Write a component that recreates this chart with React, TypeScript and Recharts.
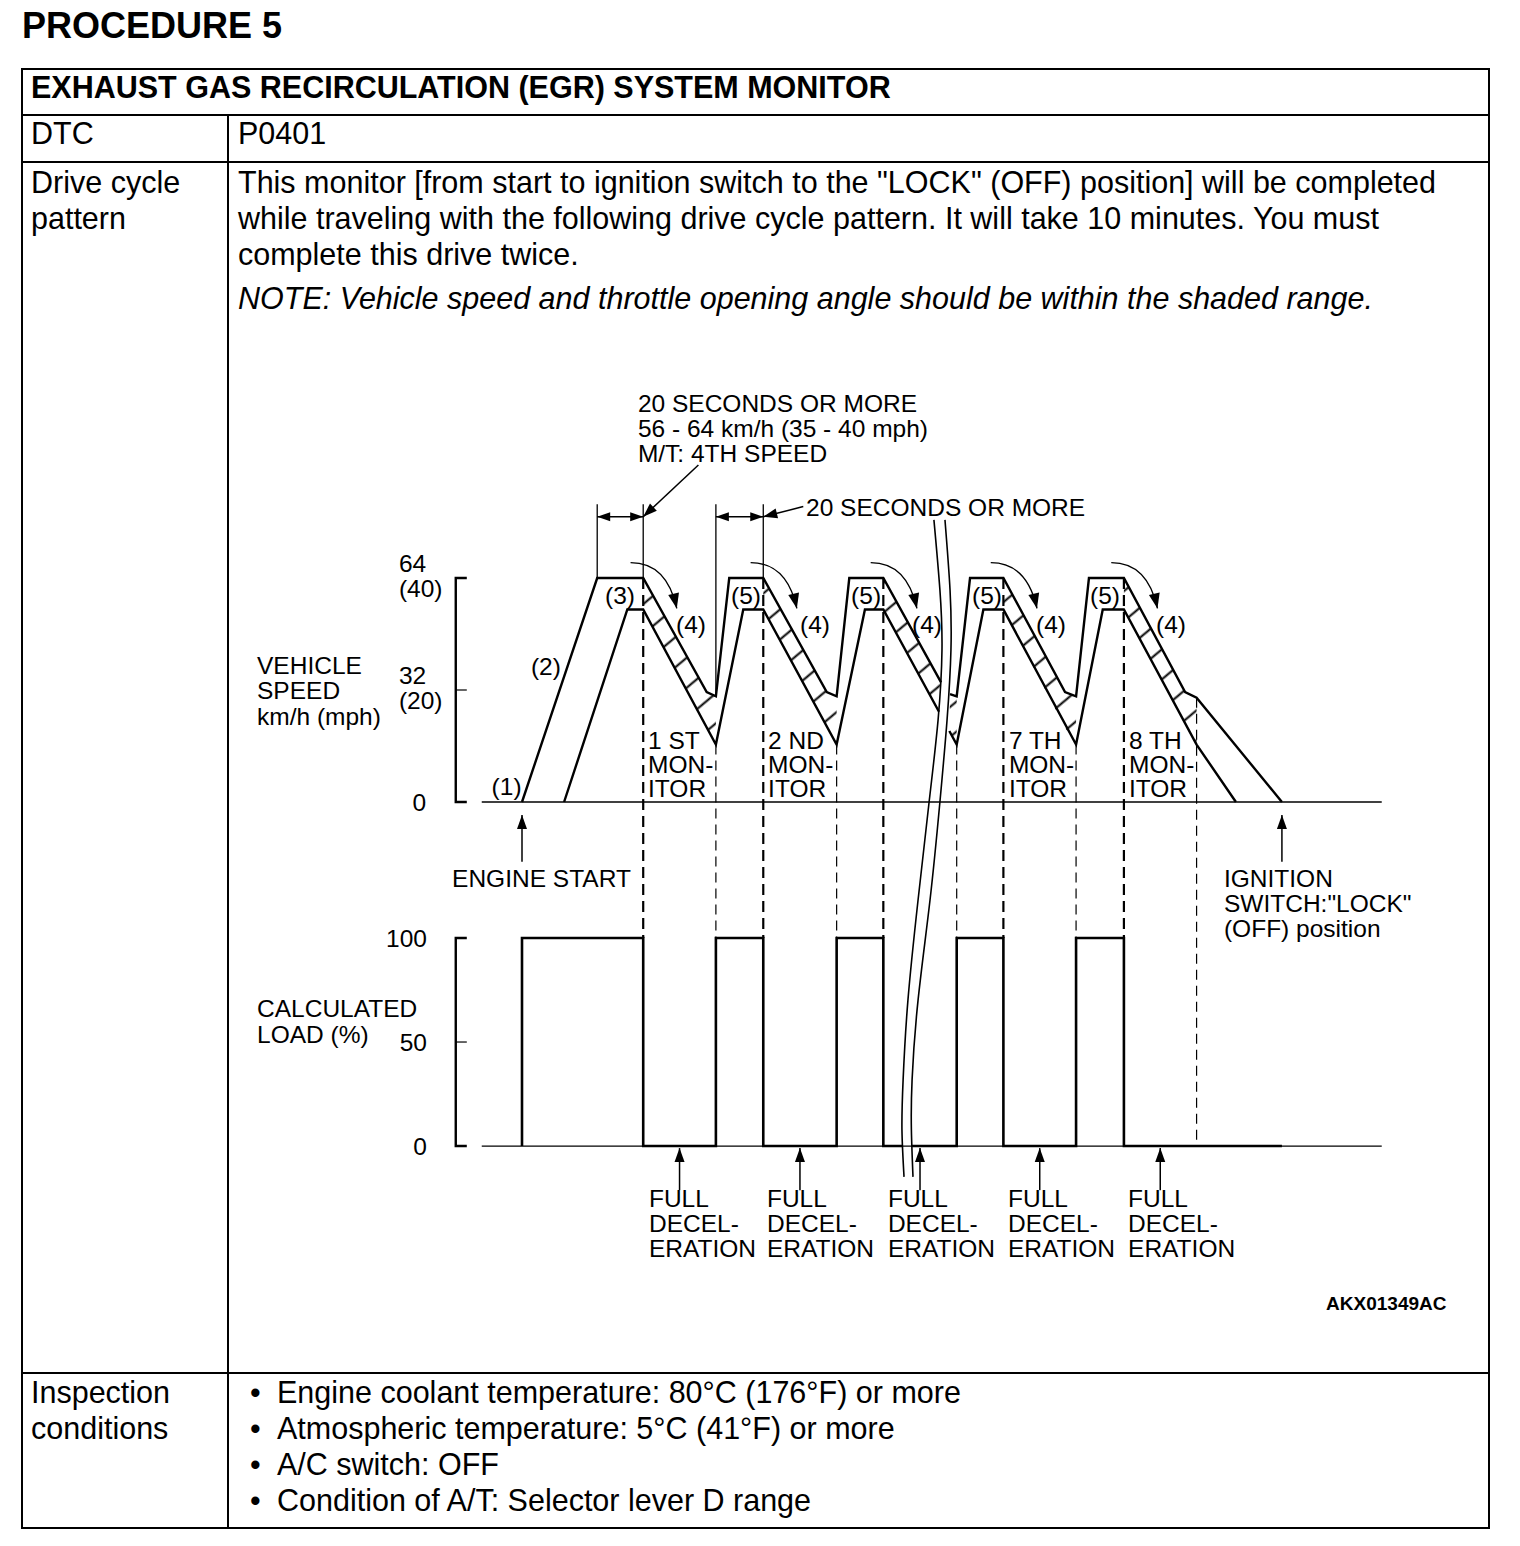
import React from 'react';
import { ComposedChart, Line, Area, XAxis, YAxis, ReferenceLine, ReferenceDot } from 'recharts';

// t = seconds after engine start, v = vehicle speed km/h, load = calculated load %
const upperLimitA = [[0, 0], [32.7, 64], [52.7, 64], [80.3, 31.4], [84.3, 30.2], [90.1, 64], [104.9, 64], [132.5, 31.4], [136.8, 30.2], [142.3, 64], [157.1, 64], [182.2, 34.2]];
const lowerLimitA = [[18.3, 0], [45.8, 55], [52.7, 55], [84.3, 16.4], [96.2, 55], [104.9, 55], [136.8, 16.4], [149.1, 55], [157.1, 55], [181.3, 25.8]];
const upperLimitB = [[186.1, 30.8], [189, 30.2], [194.8, 64], [209.3, 64], [236.1, 31.4], [240.9, 30.2], [246.5, 64], [261.7, 64], [288.3, 31.4], [293.3, 29.8], [330.4, 0]];
const lowerLimitB = [[185.8, 20.3], [189, 16.4], [200.6, 55], [209.3, 55], [240.9, 16.4], [252.5, 55], [261.7, 55], [293.3, 16.4], [310.4, 0]];

// shaded decel ranges: [t, low, high]
const shadedRanges = [
  [[52.7, 55, 64], [80.3, 21.3, 31.4], [84.3, 16.4, 30.2]],
  [[104.9, 55, 64], [132.5, 21.3, 31.4], [136.8, 16.4, 30.2]],
  [[157.1, 55, 64], [181.7, 25.4, 34.3]],
  [[186, 20.3, 30.8], [189, 16.4, 30.2]],
  [[209.3, 55, 64], [236.1, 21.3, 31.4], [240.9, 16.4, 30.2]],
  [[261.7, 55, 64], [288.3, 22.1, 31.4], [293.3, 16.4, 29.8]],
];

const loadA = [[0, 0], [0, 100], [52.7, 100], [52.7, 0], [84.3, 0], [84.3, 100], [104.9, 100], [104.9, 0], [136.8, 0], [136.8, 100], [157.1, 100], [157.1, 0], [165.3, 0]];
const loadB = [[169.5, 0], [189, 0], [189, 100], [209.3, 100], [209.3, 0], [240.9, 0], [240.9, 100], [261.7, 100], [261.7, 0], [330.4, 0]];

const decelStarts = [52.7, 104.9, 157.1, 209.3, 261.7];
const valleys = [84.3, 136.8, 189, 240.9, 293.3];
const valleyTop = [16.4, 16.4, 16.4, 16.4, 29.8];
const valleyBottomLoad = [100, 100, 100, 100, 0];

// break marks (t, speed units)
const breakLeft = [[179.1, 80.6], [181.7, 60.6], [182.6, 43.4], [180.9, 23.4], [177, 0], [172.2, -28], [167.8, -56.6], [165.7, -79.4], [165.2, -93.7], [166.1, -107.1]];
const breakRight = [[183.9, 80.6], [186.1, 60.6], [186.5, 43.4], [184.8, 23.4], [181.7, 0], [177.4, -28], [172.2, -56.6], [169.6, -79.4], [169.3, -93.7], [170, -107.1]];

const speedBracket = [[-24, 64], [-28.8, 64], [-28.8, 0], [-24, 0]];
const loadBracket = [[-24, 100], [-28.8, 100], [-28.8, 0], [-24, 0]];

const speedTickLabels = [{ v: 64, text: ['64', '(40)'] }, { v: 32, text: ['32', '(20)'] }];
const loadTickLabels = [100, 50, 0];

const T_DOMAIN = [-120, 420];
const SPD_DOMAIN = [-150, 120];
const LOAD_DOMAIN = [-87, 367.3];
const loadToSpd = (l: number) =>
  SPD_DOMAIN[0] + ((l - LOAD_DOMAIN[0]) / (LOAD_DOMAIN[1] - LOAD_DOMAIN[0])) * (SPD_DOMAIN[1] - SPD_DOMAIN[0]);

const pts = (a: number[][]) => a.map(([t, v]) => ({ t, v }));
const band = (a: number[][]) => a.map(([t, lo, hi]) => ({ t, band: [lo, hi] }));

const FONT = "'Liberation Sans', Arial, Helvetica, sans-serif";
const CHART_FS = 24.5;

// labels placed in chart units
const speedNotes = [
  { t: 50.4, v: 114, lines: ['20 SECONDS OR MORE', '56 - 64 km/h (35 - 40 mph)', 'M/T: 4TH SPEED'], gap: 25 },
  { t: 123.5, v: 84.3, lines: ['20 SECONDS OR MORE'] },
  { t: -115.2, v: 39.1, lines: ['VEHICLE', 'SPEED', 'km/h (mph)'], gap: 25.5 },
  { t: -6.7, v: 4.6, lines: ['(1)'], anchor: 'middle' },
  { t: 10.4, v: 38.9, lines: ['(2)'], anchor: 'middle' },
  { t: 42.6, v: 59.1, lines: ['(3)'], anchor: 'middle' },
  ...[73.5, 127.4, 176.1, 230, 282.2].map((t) => ({ t, v: 50.9, lines: ['(4)'], anchor: 'middle' })),
  ...[97.4, 149.6, 202.2, 253.5].map((t) => ({ t, v: 59.1, lines: ['(5)'], anchor: 'middle' })),
  { t: 54.8, v: 17.7, lines: ['1 ST', 'MON-', 'ITOR'], gap: 24 },
  { t: 107, v: 17.7, lines: ['2 ND', 'MON-', 'ITOR'], gap: 24 },
  { t: 211.7, v: 17.7, lines: ['7 TH', 'MON-', 'ITOR'], gap: 24 },
  { t: 263.9, v: 17.7, lines: ['8 TH', 'MON-', 'ITOR'], gap: 24 },
  { t: -30.4, v: -21.7, lines: ['ENGINE START'] },
  { t: 305.2, v: -21.7, lines: ['IGNITION', 'SWITCH:"LOCK"', '(OFF) position'], gap: 25 },
];
const loadNotes = [
  { t: -115.2, l: 66.3, lines: ['CALCULATED', 'LOAD (%)'], gap: 26 },
  ...[55.2, 106.5, 159.1, 211.3, 263.5].map((t) => ({ t, l: -25, lines: ['FULL', 'DECEL-', 'ERATION'], gap: 25 })),
];

const head = (x1: number, y1: number, x2: number, y2: number, len = 13, half = 4.5) => {
  const d = Math.hypot(x2 - x1, y2 - y1) || 1;
  const ux = (x2 - x1) / d;
  const uy = (y2 - y1) / d;
  const bx = x2 - ux * len;
  const by = y2 - uy * len;
  return `${x2},${y2} ${bx - uy * half},${by + ux * half} ${bx + uy * half},${by - ux * half}`;
};

const arrow = (p: any) => (
  <g>
    <line x1={p.x1} y1={p.y1} x2={p.x2} y2={p.y2} stroke="#000" strokeWidth={1.5} />
    <polygon points={head(p.x1, p.y1, p.x2, p.y2, 14, 5)} fill="#000" />
  </g>
);
const dimArrow = (p: any) => (
  <g>
    <line x1={p.x1} y1={p.y1} x2={p.x2} y2={p.y2} stroke="#000" strokeWidth={1.3} />
    <polygon points={head(p.x1, p.y1, p.x2, p.y2, 13, 4.5)} fill="#000" />
    <polygon points={head(p.x2, p.y2, p.x1, p.y1, 13, 4.5)} fill="#000" />
  </g>
);
const bendArrow = (p: any) => {
  const cx = p.x2 - 10;
  const cy = p.y1;
  return (
    <g>
      <path d={`M${p.x1},${p.y1} Q${cx},${cy} ${p.x2},${p.y2}`} fill="none" stroke="#000" strokeWidth={1.4} />
      <polygon points={head(cx, cy, p.x2, p.y2, 15, 5.5)} fill="#000" />
    </g>
  );
};

const textShape = (lines: string[], anchor = 'start', gap = 24.5, size = CHART_FS, weight: any = 'normal') => (p: any) => (
  <text textAnchor={anchor as any} fontFamily={FONT} fontSize={size} fontWeight={weight} fill="#000">
    {lines.map((s, i) => (
      <tspan key={i} x={p.cx} y={p.cy + i * gap + size * 0.358}>
        {s}
      </tspan>
    ))}
  </text>
);

function DriveCycleChart() {
  const line = { stroke: '#000', dot: false, activeDot: false, isAnimationActive: false, type: 'linear' as const };
  return (
    <ComposedChart width={1242} height={945} margin={{ top: 0, right: 0, bottom: 0, left: 0 }}>
      <defs>
        <pattern id="hatch" patternUnits="userSpaceOnUse" width="23" height="23" patternTransform="rotate(50)">
          <line x1="11.5" y1="0" x2="11.5" y2="23" stroke="#000" strokeWidth="2" />
        </pattern>
      </defs>
      <XAxis dataKey="t" type="number" domain={T_DOMAIN} allowDataOverflow hide />
      <YAxis yAxisId="spd" type="number" domain={SPD_DOMAIN} allowDataOverflow hide />
      <YAxis yAxisId="load" type="number" domain={LOAD_DOMAIN} allowDataOverflow hide />

      {shadedRanges.map((r, i) => (
        <Area key={`sh${i}`} yAxisId="spd" data={band(r)} dataKey="band" type="linear" stroke="none" fill="url(#hatch)" fillOpacity={1} isAnimationActive={false} activeDot={false} />
      ))}

      {/* baselines */}
      <ReferenceLine yAxisId="spd" segment={[{ x: -17.5, y: 0 }, { x: 373.8, y: 0 }]} stroke="#000" strokeWidth={1.3} />
      <ReferenceLine yAxisId="load" segment={[{ x: -17.5, y: 0 }, { x: 373.8, y: 0 }]} stroke="#000" strokeWidth={1.3} />

      {/* dashed guides */}
      {decelStarts.map((t, i) => (
        <ReferenceLine key={`ds${i}`} yAxisId="spd" segment={[{ x: t, y: 64 }, { x: t, y: loadToSpd(100) }]} stroke="#000" strokeWidth={2.2} strokeDasharray="11 6" />
      ))}
      {valleys.map((t, i) => (
        <ReferenceLine key={`dv${i}`} yAxisId="spd" segment={[{ x: t, y: valleyTop[i] }, { x: t, y: loadToSpd(valleyBottomLoad[i]) }]} stroke="#000" strokeWidth={1.2} strokeDasharray="10 6" />
      ))}

      {/* dimension lines for 20 s plateaus */}
      <ReferenceLine yAxisId="spd" segment={[{ x: 32.7, y: 64 }, { x: 32.7, y: 85.1 }]} stroke="#000" strokeWidth={1.3} />
      <ReferenceLine yAxisId="spd" segment={[{ x: 52.7, y: 64 }, { x: 52.7, y: 85.1 }]} stroke="#000" strokeWidth={1.3} />
      <ReferenceLine yAxisId="spd" segment={[{ x: 84.3, y: 30.2 }, { x: 84.3, y: 85.1 }]} stroke="#000" strokeWidth={1.3} />
      <ReferenceLine yAxisId="spd" segment={[{ x: 104.9, y: 64 }, { x: 104.9, y: 85.1 }]} stroke="#000" strokeWidth={1.3} />
      <ReferenceLine yAxisId="spd" segment={[{ x: 32.7, y: 81.5 }, { x: 52.7, y: 81.5 }]} shape={dimArrow} />
      <ReferenceLine yAxisId="spd" segment={[{ x: 84.3, y: 81.5 }, { x: 104.9, y: 81.5 }]} shape={dimArrow} />
      <ReferenceLine yAxisId="spd" segment={[{ x: 76.7, y: 96.3 }, { x: 52.7, y: 81.5 }]} shape={arrow} />
      <ReferenceLine yAxisId="spd" segment={[{ x: 122.3, y: 84.4 }, { x: 104.9, y: 81.5 }]} shape={arrow} />

      {decelStarts.map((t, i) => (
        <ReferenceLine key={`ba${i}`} yAxisId="spd" segment={[{ x: t - 5.5, y: 68.4 }, { x: t + 14.6, y: 55.3 }]} shape={bendArrow} />
      ))}

      <ReferenceLine yAxisId="spd" segment={[{ x: 0, y: -17.1 }, { x: 0, y: -3.7 }]} shape={arrow} />
      <ReferenceLine yAxisId="spd" segment={[{ x: 330.4, y: -17.1 }, { x: 330.4, y: -3.7 }]} shape={arrow} />
      {decelStarts.map((t, i) => (
        <ReferenceLine key={`fd${i}`} yAxisId="load" segment={[{ x: (t + valleys[i]) / 2, y: -21.2 }, { x: (t + valleys[i]) / 2, y: -1 }]} shape={arrow} />
      ))}

      {/* axis brackets */}
      <Line yAxisId="spd" data={pts(speedBracket)} dataKey="v" {...line} strokeWidth={2.4} strokeLinejoin="miter" />
      <Line yAxisId="load" data={pts(loadBracket)} dataKey="v" {...line} strokeWidth={2.4} strokeLinejoin="miter" />
      <ReferenceLine yAxisId="spd" segment={[{ x: -28.8, y: 32 }, { x: -24, y: 32 }]} stroke="#000" strokeWidth={1.2} />
      <ReferenceLine yAxisId="load" segment={[{ x: -28.8, y: 50 }, { x: -24, y: 50 }]} stroke="#000" strokeWidth={1.2} />

      {/* speed limits */}
      <Line yAxisId="spd" data={pts(upperLimitA)} dataKey="v" {...line} strokeWidth={2.4} />
      <Line yAxisId="spd" data={pts(lowerLimitA)} dataKey="v" {...line} strokeWidth={2.4} />
      <Line yAxisId="spd" data={pts(upperLimitB)} dataKey="v" {...line} strokeWidth={2.4} />
      <Line yAxisId="spd" data={pts(lowerLimitB)} dataKey="v" {...line} strokeWidth={2.4} />

      {/* calculated load */}
      <Line yAxisId="load" data={pts(loadA)} dataKey="v" {...line} strokeWidth={2.6} strokeLinejoin="miter" />
      <Line yAxisId="load" data={pts(loadB)} dataKey="v" {...line} strokeWidth={2.6} strokeLinejoin="miter" />

      {/* break marks */}
      <Line yAxisId="spd" data={pts(breakLeft)} dataKey="v" {...line} type="natural" strokeWidth={1.6} />
      <Line yAxisId="spd" data={pts(breakRight)} dataKey="v" {...line} type="natural" strokeWidth={1.6} />

      {/* tick labels */}
      {speedTickLabels.map((k, i) => (
        <ReferenceDot key={`st${i}`} yAxisId="spd" x={-53.5} y={k.v + 4.3} shape={textShape(k.text, 'start', 25)} />
      ))}
      <ReferenceDot yAxisId="spd" x={-41.7} y={0} shape={textShape(['0'], 'end')} />
      {loadTickLabels.map((l, i) => (
        <ReferenceDot key={`lt${i}`} yAxisId="load" x={-41.3} y={l} shape={textShape([String(l)], 'end')} />
      ))}

      {speedNotes.map((n: any, i) => (
        <ReferenceDot key={`sn${i}`} yAxisId="spd" x={n.t} y={n.v} shape={textShape(n.lines, n.anchor || 'start', n.gap || 24.5)} />
      ))}
      {loadNotes.map((n: any, i) => (
        <ReferenceDot key={`ln${i}`} yAxisId="load" x={n.t} y={n.l} shape={textShape(n.lines, 'start', n.gap)} />
      ))}
      <ReferenceDot yAxisId="load" x={349.6} y={-75.5} shape={textShape(['AKX01349AC'], 'start', 20, 19, 'bold')} />
    </ComposedChart>
  );
}

const abs = (left: number, top: number, extra: any = {}) => ({ position: 'absolute' as const, left, top, whiteSpace: 'nowrap' as const, ...extra });

export default function App() {
  const cell = { fontSize: 30.5, lineHeight: '36px' };
  const bullets = [
    'Engine coolant temperature: 80°C (176°F) or more',
    'Atmospheric temperature: 5°C (41°F) or more',
    'A/C switch: OFF',
    'Condition of A/T: Selector lever D range',
  ];
  return (
    <div style={{ position: 'absolute', left: 0, top: 0, width: 1520, height: 1546, background: '#fff', color: '#000', fontFamily: FONT }}>
      <div style={abs(22, 8, { fontSize: 36, lineHeight: '36px', fontWeight: 'bold' })}>PROCEDURE 5</div>

      <div style={abs(21, 68, { width: 1465, height: 1457, border: '2px solid #000' })} />
      <div style={abs(21, 114, { width: 1469, height: 2, background: '#000' })} />
      <div style={abs(21, 161, { width: 1469, height: 2, background: '#000' })} />
      <div style={abs(21, 1372, { width: 1469, height: 2, background: '#000' })} />
      <div style={abs(227, 114, { width: 2, height: 1414, background: '#000' })} />

      <div style={abs(31, 69, { ...cell, fontWeight: 'bold' })}>EXHAUST GAS RECIRCULATION (EGR) SYSTEM MONITOR</div>
      <div style={abs(31, 115, cell)}>DTC</div>
      <div style={abs(238, 115, cell)}>P0401</div>
      <div style={abs(31, 164, cell)}>Drive cycle</div>
      <div style={abs(31, 200, cell)}>pattern</div>
      <div style={abs(238, 164, cell)}>This monitor [from start to ignition switch to the "LOCK" (OFF) position] will be completed</div>
      <div style={abs(238, 200, cell)}>while traveling with the following drive cycle pattern. It will take 10 minutes. You must</div>
      <div style={abs(238, 236, cell)}>complete this drive twice.</div>
      <div style={abs(238, 280, { ...cell, fontStyle: 'italic' })}>NOTE: Vehicle speed and throttle opening angle should be within the shaded range.</div>

      <div style={abs(246, 382)}>
        <DriveCycleChart />
      </div>

      <div style={abs(31, 1374, cell)}>Inspection</div>
      <div style={abs(31, 1410, cell)}>conditions</div>
      {bullets.map((b, i) => (
        <React.Fragment key={i}>
          <div style={abs(250, 1374 + i * 36, cell)}>•</div>
          <div style={abs(277, 1374 + i * 36, cell)}>{b}</div>
        </React.Fragment>
      ))}
    </div>
  );
}
